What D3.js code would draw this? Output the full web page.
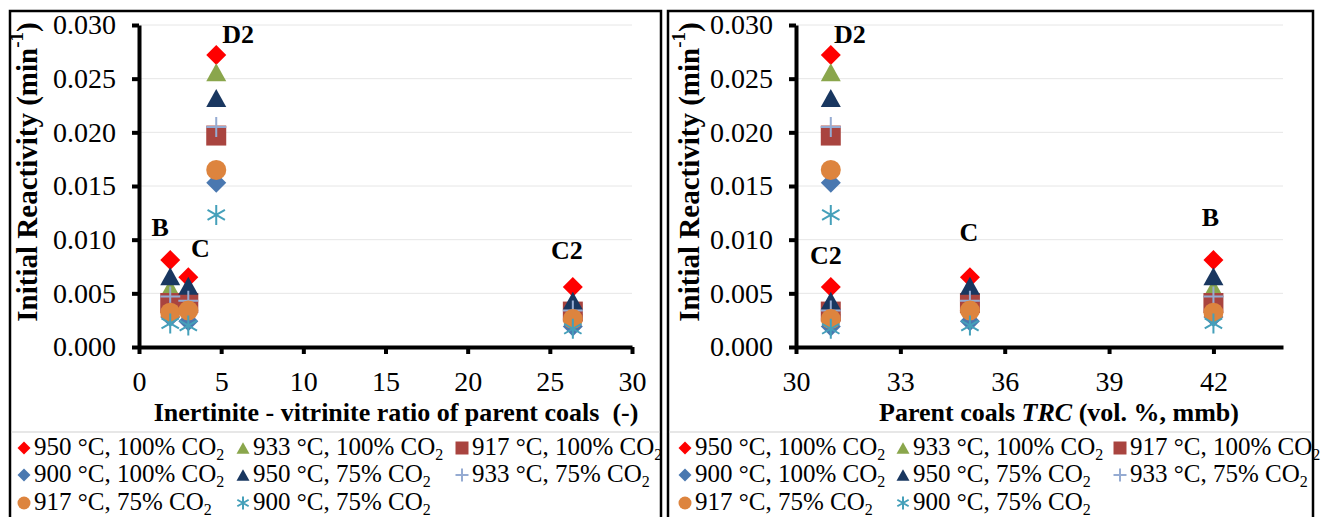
<!DOCTYPE html>
<html>
<head>
<meta charset="utf-8">
<script src="https://cdn.jsdelivr.net/npm/d3@7"></script>
<style>
  html, body { margin: 0; padding: 0; background: #fff; }
  svg { display: block; font-family: "Liberation Serif", "Times New Roman", serif; }
</style>
</head>
<body>
<svg id="chart" width="1327" height="517"></svg>
<script>
// Coals and their properties
const coals = ["B", "C", "D2", "C2"];
const ivRatio = [1.9, 3.0, 4.7, 26.4];   // inertinite / vitrinite ratio (-)
const trc = [42, 35, 31, 31];            // total reactive components (vol. %, mmb)

// Initial reactivity (min^-1) per coal, in the order of `coals`
const r950_100 = [0.0081, 0.0065, 0.0272, 0.0056];
const r933_100 = [0.0055, 0.0050, 0.0256, 0.0038];
const r917_100 = [0.0041, 0.0041, 0.0197, 0.0033];
const r900_100 = [0.0028, 0.0024, 0.0153, 0.0019];
const r950_75  = [0.0066, 0.0057, 0.0232, 0.0043];
const r933_75  = [0.0047, 0.0043, 0.0205, 0.0034];
const r917_75  = [0.0032, 0.0034, 0.0165, 0.0026];
const r900_75  = [0.0022, 0.0020, 0.0123, 0.0017];

const seriesNames = [
  ["950 °C, 100% CO", "2"], ["933 °C, 100% CO", "2"], ["917 °C, 100% CO", "2"],
  ["900 °C, 100% CO", "2"], ["950 °C, 75% CO", "2"], ["933 °C, 75% CO", "2"],
  ["917 °C, 75% CO", "2"], ["900 °C, 75% CO", "2"]
];
const seriesValues = [r950_100, r933_100, r917_100, r900_100, r950_75, r933_75, r917_75, r900_75];

const yTicks = [0, 0.005, 0.010, 0.015, 0.020, 0.025, 0.030];
const xTicksLeft = [0, 5, 10, 15, 20, 25, 30];
const xTicksRight = [30, 33, 36, 39, 42];

// Marker styles
const markerStyle = [
  { shape: "diamond",  fill: "#FF0000" },
  { shape: "triangle", fill: "#8AA64C" },
  { shape: "square",   fill: "#A9443F" },
  { shape: "diamond",  fill: "#4A78B0" },
  { shape: "triangle", fill: "#193760" },
  { shape: "plus",     stroke: "#95ABD2" },
  { shape: "circle",   fill: "#DD843E" },
  { shape: "star",     stroke: "#45A0BA" }
];

function markerPath(shape, s) {
  const h = s / 2;
  switch (shape) {
    case "diamond":  return `M0,${-h}L${h},0L0,${h}L${-h},0Z`;
    case "triangle": return `M0,${-h * 0.9}L${h},${h * 0.9}L${-h},${h * 0.9}Z`;
    case "square":   return `M${-h},${-h}H${h}V${h}H${-h}Z`;
    case "circle":   return d3.arc()({ innerRadius: 0, outerRadius: h, startAngle: 0, endAngle: 2 * Math.PI });
    case "plus":     return `M${-h},0H${h}M0,${-h}V${h}`;
    case "star": {
      const d = h * 0.87;
      return `M0,${-h}V${h}M${-d},${-h * 0.5}L${d},${h * 0.5}M${-d},${h * 0.5}L${d},${-h * 0.5}`;
    }
  }
}

function drawMarker(g, st, x, y, size, sw) {
  const p = g.append("path")
    .attr("transform", `translate(${x},${y})`)
    .attr("d", markerPath(st.shape, size));
  if (st.fill) p.attr("fill", st.fill).attr("stroke", "none");
  else p.attr("fill", "none").attr("stroke", st.stroke).attr("stroke-width", sw);
}

const svg = d3.select("#chart");
svg.append("rect").attr("width", 1327).attr("height", 517).attr("fill", "#fff");

const SERIF = "Liberation Serif, Times New Roman, serif";

const panels = [
  {
    frame: [10, 661], left: 139, right: 632, xDomain: [0, 30], xTicks: xTicksLeft, xs: ivRatio,
    yTitleX: 30,
    xTitle: [{ t: "Inertinite - vitrinite ratio of parent coals\u00a0 (-)" }], xTitleX: 396,
    labelOffset: { B: [-10, -30], C: [12, -26], D2: [22, -18], C2: [-6, -34] },
    legendX: [24, 243, 462]
  },
  {
    frame: [668, 1313], left: 796, right: 1283, xDomain: [30, 44], xTicks: xTicksRight, xs: trc,
    yTitleX: 692,
    xTitle: [{ t: "Parent coals " }, { t: "TRC", italic: true }, { t: " (vol. %, mmb)" }], xTitleX: 1059,
    labelOffset: { B: [-3, -40], C: [-1, -42], D2: [19, -18], C2: [-5, -29] },
    legendX: [685, 903, 1120]
  }
];

const yTop = 25, yBottom = 347;

panels.forEach(P => {
  const g = svg.append("g");
  const x = d3.scaleLinear().domain(P.xDomain).range([P.left, P.right]);
  const y = d3.scaleLinear().domain([0, 0.03]).range([yBottom, yTop]);

  // outer frame (bottom runs past the page edge)
  g.append("path")
    .attr("d", `M${P.frame[0]},530V11H${P.frame[1]}V530`)
    .attr("fill", "none").attr("stroke", "#000").attr("stroke-width", 2.5);

  // legend separator
  g.append("line")
    .attr("x1", P.frame[0] + 1).attr("x2", P.frame[1] - 1)
    .attr("y1", 432).attr("y2", 432)
    .attr("stroke", "#cfcfcf").attr("stroke-width", 1);

  // horizontal gridlines
  g.append("g").selectAll("line").data(yTicks.filter(v => v > 0)).join("line")
    .attr("x1", P.left).attr("x2", P.right)
    .attr("y1", d => y(d)).attr("y2", d => y(d))
    .attr("stroke", "#e6e6e6").attr("stroke-width", 1);

  // y axis
  const ya = g.append("g").attr("transform", `translate(${P.left},0)`)
    .call(d3.axisLeft(y).tickValues(yTicks).tickFormat(d3.format(".3f")).tickSize(7).tickSizeOuter(0).tickPadding(16));
  ya.select(".domain").attr("stroke", "#000").attr("stroke-width", 4);
  ya.selectAll(".tick line").attr("stroke", "#000").attr("stroke-width", 4);
  ya.selectAll(".tick text").attr("font-size", 28).attr("fill", "#000").attr("font-family", SERIF);

  // x axis
  const xa = g.append("g").attr("transform", `translate(0,${yBottom})`)
    .call(d3.axisBottom(x).tickValues(P.xTicks).tickFormat(d3.format("d")).tickSize(7).tickSizeOuter(0).tickPadding(17));
  xa.select(".domain").attr("stroke", "#000").attr("stroke-width", 4);
  xa.selectAll(".tick line").attr("stroke", "#000").attr("stroke-width", 4);
  xa.selectAll(".tick text").attr("font-size", 28).attr("fill", "#000").attr("font-family", SERIF);

  // y title
  const yt = g.append("text")
    .attr("transform", `translate(${P.yTitleX},172) rotate(-90)`)
    .attr("text-anchor", "middle").attr("dominant-baseline", "middle")
    .attr("font-size", 29).attr("font-weight", "bold");
  yt.append("tspan").text("Initial Reactivity (min");
  yt.append("tspan").attr("dy", -11).attr("font-size", 19).text("-1");
  yt.append("tspan").attr("dy", 11).text(")");

  // x title
  const xt = g.append("text")
    .attr("x", P.xTitleX).attr("y", 421)
    .attr("text-anchor", "middle")
    .attr("font-size", 26).attr("font-weight", "bold");
  P.xTitle.forEach(part => {
    const s = xt.append("tspan").text(part.t);
    if (part.italic) s.attr("font-style", "italic");
  });

  // markers
  seriesValues.forEach((vals, si) => {
    const st = markerStyle[si];
    vals.forEach((v, ci) => {
      drawMarker(g, st, x(P.xs[ci]), y(v), 20, 2);
    });
  });

  // coal labels above each stack
  coals.forEach((c, ci) => {
    const top = d3.max(seriesValues, vals => vals[ci]);
    const off = P.labelOffset[c];
    g.append("text")
      .attr("x", x(P.xs[ci]) + off[0]).attr("y", y(top) + off[1])
      .attr("text-anchor", "middle").attr("dominant-baseline", "middle")
      .attr("font-size", 26).attr("font-weight", "bold")
      .text(c);
  });

  // legend
  const rowsY = [448, 475, 503];
  seriesNames.forEach((nm, si) => {
    const col = si % 3, row = Math.floor(si / 3);
    const mx = P.legendX[col], my = rowsY[row];
    drawMarker(g, markerStyle[si], mx, my, 13, 2);
    const t = g.append("text")
      .attr("x", mx + 10).attr("y", my + 1)
      .attr("dominant-baseline", "middle")
      .attr("font-size", 25);
    t.append("tspan").text(nm[0]);
    t.append("tspan").attr("dy", 7).attr("font-size", 16).text(nm[1]);
  });
});
</script>
</body>
</html>
